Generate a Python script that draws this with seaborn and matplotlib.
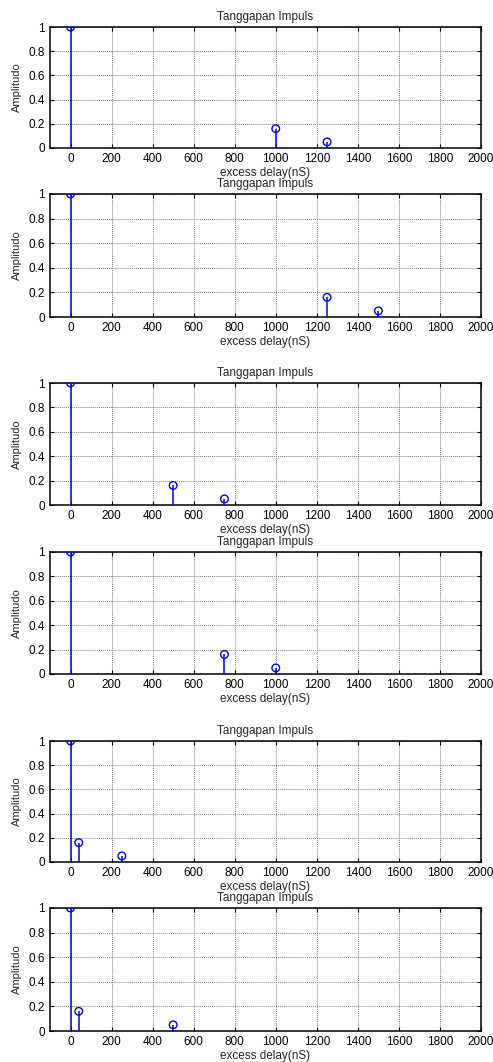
import numpy as np
import pandas as pd
import matplotlib
matplotlib.use("Agg")
import matplotlib.pyplot as plt
import seaborn as sns

# delays (nS) and amplitudes for each of the six impulse responses
DELAYS = [
    [0, 1000, 1250],
    [0, 1250, 1500],
    [0, 500, 750],
    [0, 750, 1000],
    [0, 40, 250],
    [0, 40, 500],
]
AMPS = [1.0, 0.16, 0.05]

TITLE = "Tanggapan Impuls"
XLABEL = "excess delay(nS)"
YLABEL = "Amplitudo"
XTICKS = list(range(0, 2001, 200))
YTICKS = [0, 0.2, 0.4, 0.6, 0.8, 1]
YTICKLABELS = ["0", "0.2", "0.4", "0.6", "0.8", "1"]

sns.set_style("ticks")
plt.rcParams["font.family"] = ["Liberation Sans", "DejaVu Sans"]
plt.rcParams["font.size"] = 8.5

W, H = 493, 1062
fig = plt.figure(figsize=(W / 100, H / 100), dpi=100)

# pixel box (top, bottom) of each panel
panel_px = [(27, 148), (194, 317), (383, 505), (552, 674), (741, 862), (908, 1031)]
left_px, right_px = 50, 481

for i, (top, bot) in enumerate(panel_px):
    ax = fig.add_axes([left_px / W, 1 - bot / H, (right_px - left_px) / W, (bot - top) / H])
    df = pd.DataFrame({"delay": DELAYS[i], "amp": AMPS})

    ax.vlines(df["delay"], 0, df["amp"], color="#0000ff", linewidth=1.1, zorder=3)
    sns.scatterplot(data=df, x="delay", y="amp", ax=ax, marker="o", s=30,
                    facecolor="none", edgecolor="#0000ff", linewidth=1.0, zorder=4)

    ax.set_xlim(-100, 2000)
    ax.set_ylim(0, 1)
    ax.set_xticks(XTICKS)
    ax.set_yticks(YTICKS)
    ax.set_yticklabels(YTICKLABELS)
    ax.grid(True, color="#808080", linestyle=(0, (1, 1)), linewidth=0.7)
    ax.set_axisbelow(True)
    ax.tick_params(direction="in", top=True, right=True, length=3, width=0.8,
                   labelsize=8.5, pad=3.5, colors="black")
    for sp in ax.spines.values():
        sp.set_linewidth(1.1)
        sp.set_color("black")

    ax.set_title(TITLE, fontsize=8.5, pad=5)
    ax.set_xlabel(XLABEL, fontsize=8.5, labelpad=1.5)
    ax.set_ylabel(YLABEL, fontsize=8, labelpad=5)

fig.savefig("out.png", dpi=100)
